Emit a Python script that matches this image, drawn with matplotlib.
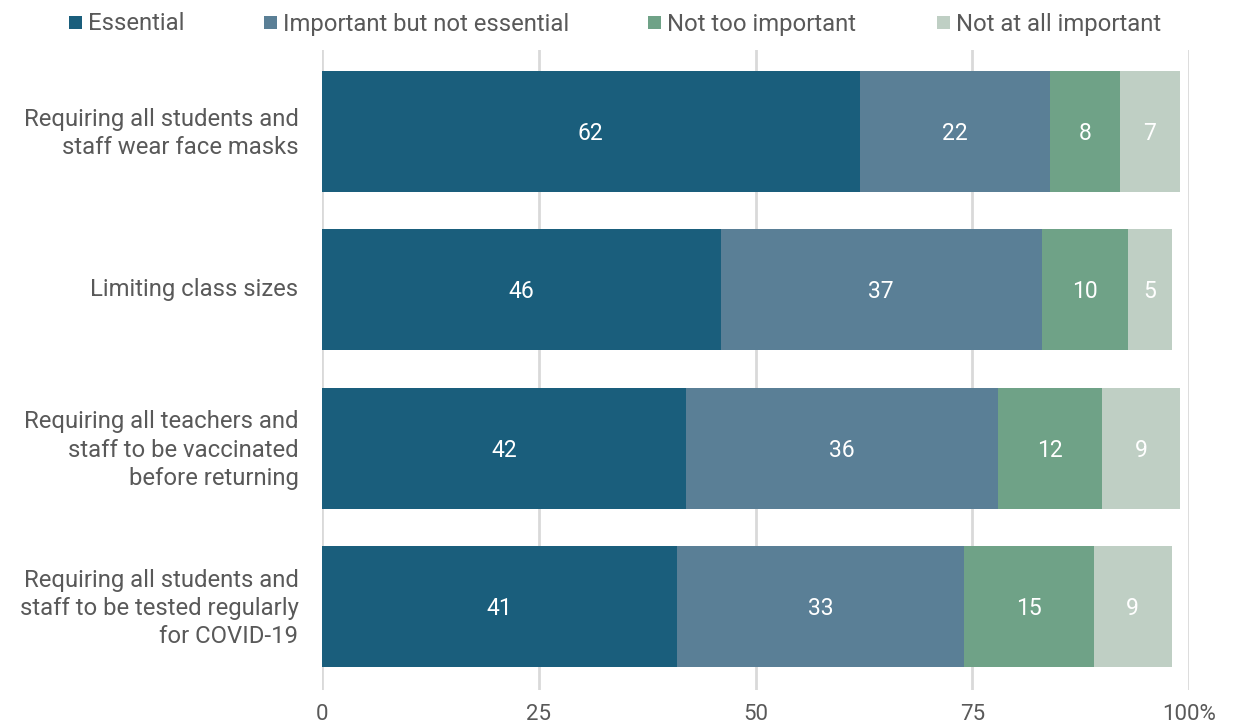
import matplotlib
matplotlib.use("Agg")
import matplotlib.pyplot as plt
from matplotlib.patches import Rectangle
import matplotlib.transforms as mtransforms
import numpy as np

plt.rcParams['font.family'] = ['Roboto', 'DejaVu Sans']

categories = [
    "Requiring all students and\nstaff wear face masks",
    "Limiting class sizes",
    "Requiring all teachers and\nstaff to be vaccinated\nbefore returning",
    "Requiring all students and\nstaff to be tested regularly\nfor COVID-19",
]
series_names = ["Essential", "Important but not essential", "Not too important", "Not at all important"]
essential = [62, 46, 42, 41]
important = [22, 37, 36, 33]
not_too = [8, 10, 12, 15]
not_at_all = [7, 5, 9, 9]
tick_values = [0, 25, 50, 75, 100]
tick_labels = ["0", "25", "50", "75", "100%"]

colors = ["#1a5e7c", "#5a7f96", "#6fa287", "#bfcfc4"]
text_grey = "#595959"

fig = plt.figure(figsize=(12.33, 7.26), dpi=100)
ax = fig.add_axes([322/1233, 1-690/726, (1189-322)/1233, (690-50)/726])

series = [essential, important, not_too, not_at_all]
y = np.arange(len(categories))
left = np.zeros(len(categories))
down = mtransforms.ScaledTranslation(0, -2/100, fig.dpi_scale_trans)
for vals, c in zip(series, colors):
    vals = np.array(vals, dtype=float)
    ax.barh(y, vals, left=left, height=0.765, color=c, zorder=3)
    for yi, l, v in zip(y, left, vals):
        ax.text(l + v/2, yi, f"{int(v)}", ha="center", va="center", color="white", fontsize=16.5,
                zorder=4, transform=ax.transData + down)
    left += vals

ax.set_xlim(0, 100)
ax.set_ylim(3.527, -0.515)
ax.set_xticks(tick_values)
ax.set_xticklabels(tick_labels, fontsize=16, color=text_grey)
ax.set_yticks(y - 0.02)
ax.set_yticklabels(categories, fontsize=17.2, color=text_grey, linespacing=1.3)
ax.tick_params(axis='x', length=0, pad=10)
ax.tick_params(axis='y', length=0, pad=17)
for s in ax.spines.values():
    s.set_visible(False)
ax.grid(axis='x', color="#d9d9d9", linewidth=2, zorder=0)
ax.grid(axis='y', visible=False)

# legend
leg_sq = [69, 264, 648, 937]
for x0, name, c in zip(leg_sq, series_names, colors):
    fig.patches.append(Rectangle((x0/1233, 1-29/726), 13/1233, 13/726, transform=fig.transFigure,
                                 facecolor=c, edgecolor='none'))
    fig.text((x0+19)/1233, 1-24/726, name, ha="left", va="center", fontsize=17.2, color=text_grey)

fig.savefig("out.png", dpi=100)
